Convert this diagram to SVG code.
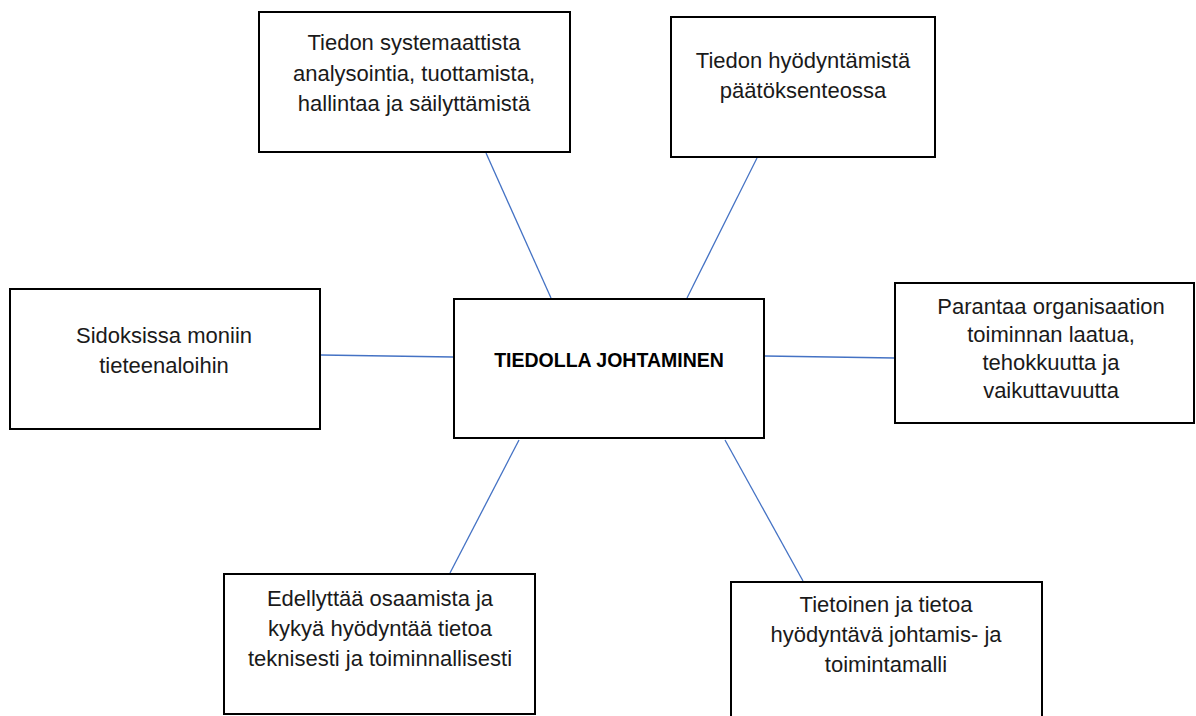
<svg xmlns="http://www.w3.org/2000/svg" width="1196" height="716" viewBox="0 0 1196 716">
<style>
.box{fill:#fff;stroke:#000;stroke-width:2}
.t{font-family:"Liberation Sans",Arial,sans-serif;font-size:22px;fill:#1a1a1a;text-anchor:middle}
.b{font-family:"Liberation Sans",Arial,sans-serif;font-size:19.5px;font-weight:bold;fill:#000;text-anchor:middle}
.c{stroke:#4472C4;stroke-width:1.3;fill:none}
</style>
<rect width="1196" height="716" fill="#fff"/>
<g id="connectors">
<line class="c" x1="486" y1="153" x2="551" y2="298"/>
<line class="c" x1="757" y1="158" x2="687" y2="298"/>
<line class="c" x1="321" y1="355" x2="453" y2="357"/>
<line class="c" x1="765" y1="356" x2="895" y2="358"/>
<line class="c" x1="519" y1="440" x2="450" y2="573"/>
<line class="c" x1="725" y1="440" x2="803" y2="581"/>
</g>
<g id="center">
<rect class="box" x="454" y="299" width="310" height="139"/>
<text class="b" x="609" y="367">TIEDOLLA JOHTAMINEN</text>
</g>
<g id="n1">
<rect class="box" x="259" y="12" width="311" height="140"/>
<text class="t" x="414" y="50">Tiedon systemaattista</text>
<text class="t" x="414" y="81">analysointia, tuottamista,</text>
<text class="t" x="414" y="111">hallintaa ja säilyttämistä</text>
</g>
<g id="n2">
<rect class="box" x="671" y="17" width="264" height="140"/>
<text class="t" x="803" y="68">Tiedon hyödyntämistä</text>
<text class="t" x="803" y="98">päätöksenteossa</text>
</g>
<g id="n3">
<rect class="box" x="10" y="289" width="310" height="140"/>
<text class="t" x="164" y="343">Sidoksissa moniin</text>
<text class="t" x="164" y="373">tieteenaloihin</text>
</g>
<g id="n4">
<rect class="box" x="895" y="283" width="299" height="140"/>
<text class="t" x="1051" y="314">Parantaa organisaation</text>
<text class="t" x="1051" y="342">toiminnan laatua,</text>
<text class="t" x="1051" y="370">tehokkuutta ja</text>
<text class="t" x="1051" y="398">vaikuttavuutta</text>
</g>
<g id="n5">
<rect class="box" x="224" y="574" width="311" height="140"/>
<text class="t" x="380" y="606">Edellyttää osaamista ja</text>
<text class="t" x="380" y="636">kykyä hyödyntää tietoa</text>
<text class="t" x="380" y="666">teknisesti ja toiminnallisesti</text>
</g>
<g id="n6">
<rect class="box" x="731" y="582" width="311" height="140"/>
<text class="t" x="886" y="612">Tietoinen ja tietoa</text>
<text class="t" x="886" y="642">hyödyntävä johtamis- ja</text>
<text class="t" x="886" y="672">toimintamalli</text>
</g>
</svg>
